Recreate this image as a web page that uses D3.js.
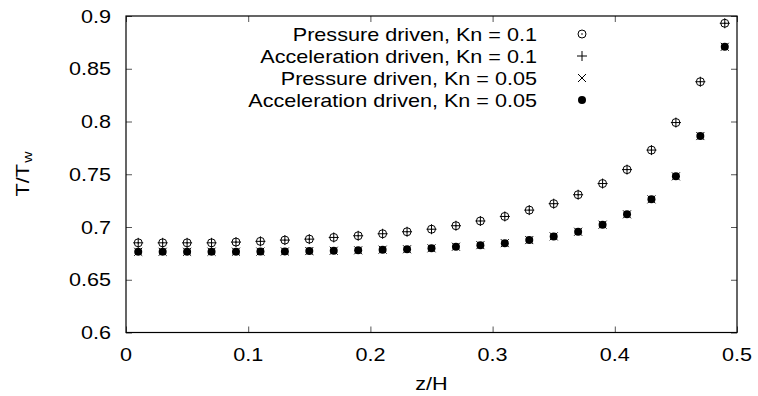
<!DOCTYPE html>
<html><head><meta charset="utf-8">
<script src="https://cdn.jsdelivr.net/npm/d3@7"></script>
<style>
html,body{margin:0;padding:0;background:#fff;}
svg{display:block;font-family:"Liberation Sans",Arial,sans-serif;}
</style></head>
<body>
<svg id="chart" width="758" height="396"></svg>
<script>
const zValues = [0.01,0.03,0.05,0.07,0.09,0.11,0.13,0.15,0.17,0.19,0.21,0.23,0.25,0.27,0.29,0.31,0.33,0.35,0.37,0.39,0.41,0.43,0.45,0.47,0.49];
const pressureKn01 = [0.685,0.685,0.685,0.685,0.6857,0.6864,0.6876,0.6885,0.6901,0.6917,0.6936,0.6955,0.6979,0.7012,0.7057,0.7100,0.7160,0.7221,0.7306,0.7412,0.7544,0.7729,0.7990,0.8377,0.8931];
const accelKn01    = [0.685,0.685,0.685,0.685,0.6857,0.6864,0.6876,0.6885,0.6901,0.6917,0.6936,0.6955,0.6979,0.7012,0.7057,0.7100,0.7160,0.7221,0.7306,0.7412,0.7544,0.7729,0.7990,0.8377,0.8931];
const pressureKn005 = [0.6765,0.6765,0.6765,0.6766,0.6766,0.6767,0.6768,0.6772,0.6775,0.6779,0.6785,0.6789,0.6798,0.6813,0.6828,0.6847,0.6876,0.6911,0.6955,0.7022,0.7120,0.7262,0.7480,0.7862,0.8708];
const accelKn005    = [0.6765,0.6765,0.6765,0.6766,0.6766,0.6767,0.6768,0.6772,0.6775,0.6779,0.6785,0.6789,0.6798,0.6813,0.6828,0.6847,0.6876,0.6911,0.6955,0.7022,0.7120,0.7262,0.7480,0.7862,0.8708];
const seriesNames = ["Pressure driven, Kn = 0.1","Acceleration driven, Kn = 0.1","Pressure driven, Kn = 0.05","Acceleration driven, Kn = 0.05"];
const xTicks = [0,0.1,0.2,0.3,0.4,0.5];
const yTicks = [0.6,0.65,0.7,0.75,0.8,0.85,0.9];

const svg = d3.select("#chart");
const m = {left:126, right:737, top:16, bottom:332.5};
const x = d3.scaleLinear().domain([0,0.5]).range([m.left,m.right]);
const y = d3.scaleLinear().domain([0.6,0.9]).range([m.bottom,m.top]);
const SX = 1.2; // horizontal text stretch
const fs = 18;

function stretchedText(g, tx, ty, str, anchor){
  const t = g.append("g").attr("transform",`translate(${tx},${ty}) scale(${SX},1)`)
    .append("text").attr("x",0).attr("y",0).attr("text-anchor",anchor)
    .attr("font-size",fs).attr("fill","#000").text(str);
  return t;
}

// axes
const xAxisB = d3.axisBottom(x).tickValues(xTicks).tickSize(-6).tickFormat("");
const xAxisT = d3.axisTop(x).tickValues(xTicks).tickSize(-6).tickFormat("");
const yAxisL = d3.axisLeft(y).tickValues(yTicks).tickSize(-6).tickFormat("");
const yAxisR = d3.axisRight(y).tickValues(yTicks).tickSize(-6).tickFormat("");
[[xAxisB,`translate(0,${m.bottom})`],[xAxisT,`translate(0,${m.top})`],[yAxisL,`translate(${m.left},0)`],[yAxisR,`translate(${m.right},0)`]].forEach(([ax,tr])=>{
  const g = svg.append("g").attr("transform",tr).call(ax);
  g.select(".domain").remove();
  g.selectAll(".tick line").attr("stroke","#555").attr("stroke-width",1);
});
svg.append("rect").attr("x",m.left).attr("y",m.top).attr("width",m.right-m.left).attr("height",m.bottom-m.top)
  .attr("fill","none").attr("stroke","#000").attr("stroke-width",1.2);

// tick labels
const tl = svg.append("g");
xTicks.forEach(v=>stretchedText(tl, x(v), 361, d3.format("")(v), "middle"));
yTicks.forEach(v=>stretchedText(tl, 111, y(v)+6.5, d3.format("")(v), "end"));

// axis titles
stretchedText(svg, x(0.25), 390, "z/H", "middle");
const yl = svg.append("g").attr("transform",`translate(29,174) rotate(-90) scale(${SX},1)`)
  .append("text").attr("text-anchor","middle").attr("font-size",fs);
yl.append("tspan").text("T/T");
yl.append("tspan").attr("font-size",13).attr("dx",1).attr("dy",3).text("w");

// symbols
function drawSym(g, type, cx, cy){
  if(type===0){
    g.append("circle").attr("cx",cx).attr("cy",cy).attr("r",4).attr("fill","none").attr("stroke","#000").attr("stroke-width",1);
    g.append("circle").attr("cx",cx).attr("cy",cy).attr("r",0.8).attr("fill","#000");
  } else if(type===1){
    g.append("path").attr("d",`M${cx-5},${cy}H${cx+5}M${cx},${cy-5}V${cy+5}`).attr("stroke","#000").attr("stroke-width",1);
  } else if(type===2){
    g.append("path").attr("d",`M${cx-4},${cy-4}L${cx+4},${cy+4}M${cx-4},${cy+4}L${cx+4},${cy-4}`).attr("stroke","#000").attr("stroke-width",1);
  } else {
    g.append("circle").attr("cx",cx).attr("cy",cy).attr("r",4).attr("fill","#000");
  }
}
const series = [pressureKn01, accelKn01, pressureKn005, accelKn005];
const pg = svg.append("g");
series.forEach((vals,si)=>{
  vals.forEach((v,i)=>drawSym(pg, si, x(zValues[i]), y(v)));
});

// legend
const lg = svg.append("g");
const legendY = [34,56,78,100];
seriesNames.forEach((name,i)=>{
  stretchedText(lg, 537, legendY[i]+6.5, name, "end");
  drawSym(lg, i, 582, legendY[i]);
});
</script>
</body></html>
